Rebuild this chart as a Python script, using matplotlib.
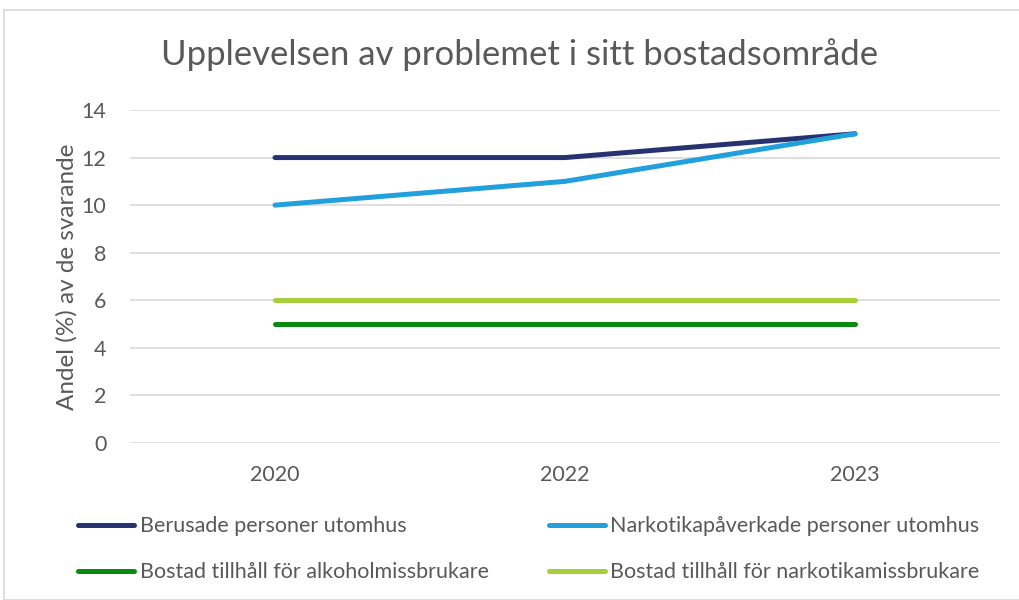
import matplotlib
matplotlib.use("Agg")
import matplotlib.pyplot as plt
from matplotlib.patches import Rectangle

years = ["2020", "2022", "2023"]
berusade = [12, 12, 13]
narkotikapaverkade = [10, 11, 13]
alkohol = [5, 5, 5]
narkotika = [6, 6, 6]

series = [
    ("Berusade personer utomhus", berusade, "#263370"),
    ("Narkotikapåverkade personer utomhus", narkotikapaverkade, "#22a0dc"),
    ("Bostad tillhåll för alkoholmissbrukare", alkohol, "#0b8a12"),
    ("Bostad tillhåll för narkotikamissbrukare", narkotika, "#a6cf3a"),
]

plt.rcParams['font.family'] = ['Lato', 'DejaVu Sans']
txt = "#595959"

fig = plt.figure(figsize=(10.19, 6.0), dpi=100)
ax = fig.add_axes([130/1019, 1-443/600, 870/1019, 333/600])

x = list(range(len(years)))
handles = []
for name, vals, col in series:
    h, = ax.plot(x, vals, color=col, lw=3.6, solid_capstyle='round', label=name)
    handles.append(h)

ax.set_xlim(-0.5, len(years)-0.5)
ax.set_ylim(0, 14)
ax.set_yticks(range(0, 15, 2))
ax.set_xticks(x)
ax.set_xticklabels(years)
ax.grid(axis='y', color='#d9d9d9', lw=1.2)
ax.set_axisbelow(True)
for s in ax.spines.values():
    s.set_visible(False)
ax.tick_params(length=0, labelsize=15.5, colors=txt)
ax.tick_params(axis='y', pad=17)
ax.tick_params(axis='x', pad=16)
ax.set_ylabel("Andel (%) av de svarande", fontsize=17.5, color=txt, labelpad=3)

fig.text(520/1019, 1-55/600, "Upplevelsen av problemet i sitt bostadsområde",
         ha='center', va='center', fontsize=25, color=txt)

order = [0, 2, 1, 3]
leg = fig.legend([handles[i] for i in order], [series[i][0] for i in order],
                 loc='upper left', bbox_to_anchor=(59/1019, 1-497/600), ncol=2,
                 frameon=False, fontsize=15.5, handlelength=2.6, handletextpad=0.25,
                 columnspacing=2.8, labelspacing=1.2, labelcolor=txt)

fig.patches.append(Rectangle((4/1019, 0), 1.1, 1-10/600, transform=fig.transFigure,
                             fill=False, edgecolor='#d9d9d9', lw=1.2))

fig.savefig("out.png", dpi=100)
